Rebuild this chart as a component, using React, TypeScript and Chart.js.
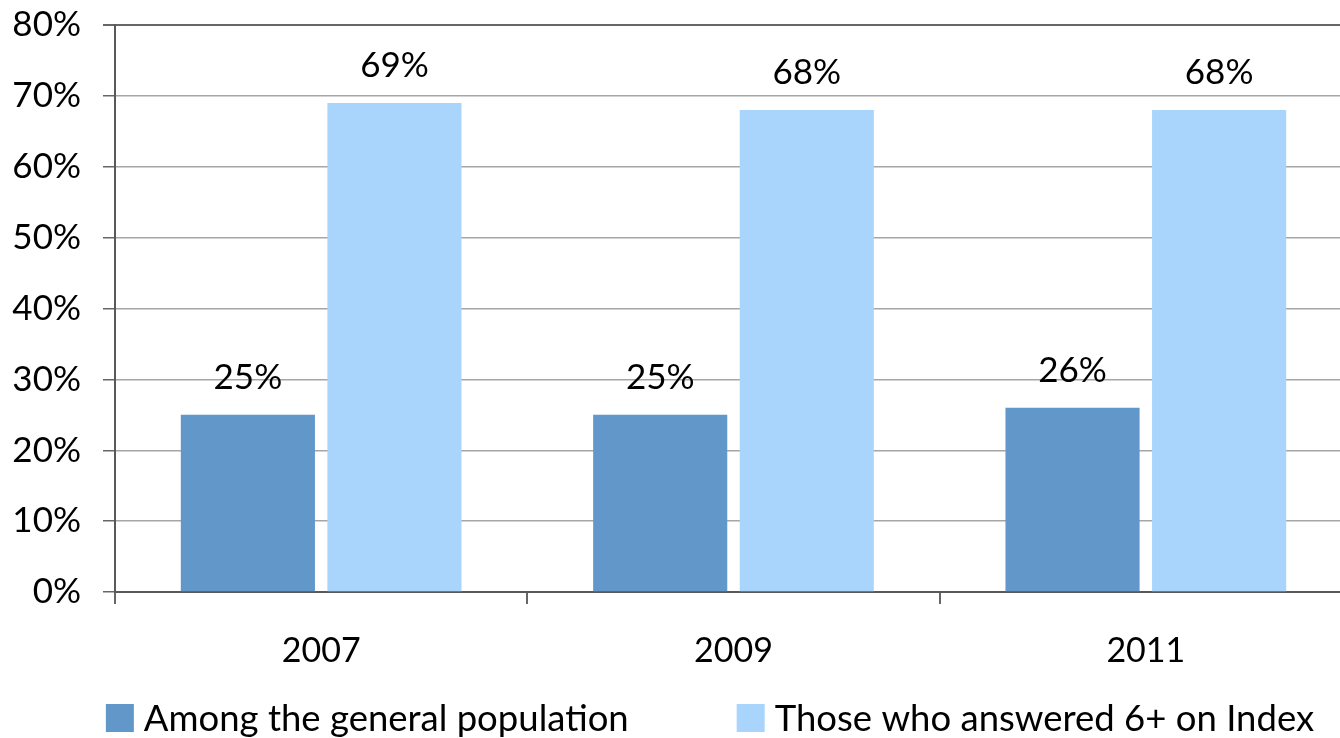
import React, { useEffect, useRef } from "react";
import { Chart, registerables } from "chart.js";

Chart.register(...registerables);

const categories = ["2007", "2009", "2011"];
const seriesNames = ["Among the general population", "Those who answered 6+ on Index"];
const generalPopulation = [25, 25, 26];
const answered6Plus = [69, 68, 68];
const yTicks = [0, 10, 20, 30, 40, 50, 60, 70, 80];
const seriesColors = ["#6197C9", "#A9D5FD"];

const FONT = "Lato, 'Open Sans', sans-serif";

const dataLabelPlugin = {
  id: "dataLabels",
  afterDatasetsDraw(chart: any) {
    const ctx = chart.ctx;
    ctx.save();
    ctx.font = `35px ${FONT}`;
    ctx.fillStyle = "#000";
    ctx.textAlign = "center";
    ctx.textBaseline = "middle";
    chart.data.datasets.forEach((ds: any, i: number) => {
      const meta = chart.getDatasetMeta(i);
      meta.data.forEach((bar: any, j: number) => {
        ctx.fillText(`${ds.data[j]}%`, bar.x, bar.y - 37);
      });
    });
    ctx.restore();
  },
};

const legendPlugin = {
  id: "customLegend",
  afterDraw(chart: any) {
    const ctx = chart.ctx;
    ctx.save();
    ctx.font = `36.5px ${FONT}`;
    ctx.textBaseline = "middle";
    ctx.textAlign = "left";
    const box = 28;
    const gapText = 10;
    const itemGap = 108;
    const widths = chart.data.datasets.map((ds: any) => box + gapText + ctx.measureText(ds.label).width);
    const total = widths.reduce((a: number, b: number) => a + b, 0) + itemGap * (widths.length - 1);
    let x = 710 - total / 2;
    const yMid = 718;
    chart.data.datasets.forEach((ds: any, i: number) => {
      ctx.fillStyle = ds.backgroundColor;
      ctx.fillRect(x, yMid - box / 2, box, box);
      ctx.fillStyle = "#000";
      ctx.fillText(ds.label, x + box + gapText, yMid + 1);
      x += widths[i] + itemGap;
    });
    ctx.restore();
  },
};

export default function App() {
  const canvasRef = useRef<HTMLCanvasElement | null>(null);

  useEffect(() => {
    if (!canvasRef.current) return;
    const chart = new Chart(canvasRef.current, {
      type: "bar",
      data: {
        labels: categories,
        datasets: [
          {
            label: seriesNames[0],
            data: generalPopulation,
            backgroundColor: seriesColors[0],
            categoryPercentage: 0.711,
            barPercentage: 0.915,
          },
          {
            label: seriesNames[1],
            data: answered6Plus,
            backgroundColor: seriesColors[1],
            categoryPercentage: 0.711,
            barPercentage: 0.915,
          },
        ],
      },
      options: {
        responsive: false,
        animation: false,
        devicePixelRatio: 1,
        layout: { padding: { top: 25, right: 8, left: 0, bottom: 0 } },
        plugins: {
          legend: { display: false },
          tooltip: { enabled: false },
        },
        scales: {
          x: {
            offset: true,
            grid: {
              offset: true,
              drawOnChartArea: false,
              drawTicks: true,
              tickLength: 12,
              tickColor: "#666",
              lineWidth: 2,
            },
            border: { color: "#595959", width: 2 },
            ticks: {
              color: "#000",
              font: { family: FONT, size: 34 },
              padding: 27,
            },
            afterFit(scale: any) {
              scale.height = 146;
            },
          },
          y: {
            min: 0,
            max: 80,
            afterBuildTicks(scale: any) {
              scale.ticks = yTicks.map((v) => ({ value: v }));
            },
            grid: {
              color: (c: any) => (c.tick && c.tick.value === 80 ? "#666" : "#a6a6a6"),
              lineWidth: (c: any) => (c.tick && c.tick.value === 80 ? 2 : 1.5),
              drawTicks: true,
              tickLength: 12,
              tickColor: "#666",
            },
            border: { color: "#595959", width: 2 },
            ticks: {
              color: "#000",
              font: { family: FONT, size: 35 },
              padding: 22,
              callback: (v: any) => `${v}%`,
            },
            afterFit(scale: any) {
              scale.width = 115;
              scale.paddingTop = 0;
              scale.paddingBottom = 0;
            },
          },
        },
      },
      plugins: [dataLabelPlugin, legendPlugin],
    });
    return () => chart.destroy();
  }, []);

  return (
    <div
      style={{
        position: "fixed",
        left: 0,
        top: 0,
        width: 1340,
        height: 738,
        overflow: "hidden",
        background: "#fff",
      }}
    >
      <canvas ref={canvasRef} width={1360} height={738} style={{ display: "block" }} />
    </div>
  );
}
